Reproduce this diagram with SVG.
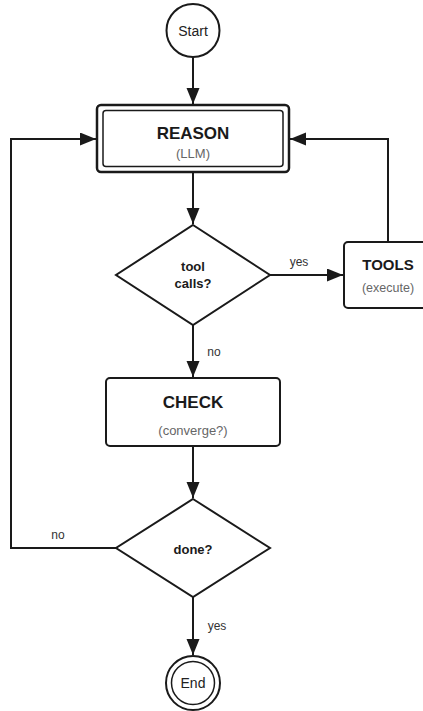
<svg xmlns="http://www.w3.org/2000/svg" width="423" height="711" viewBox="0 0 423 711">
<style>
.bg{fill:#ffffff}
.shape{fill:#ffffff;stroke:#1a1a1a;stroke-width:2}
.thin{fill:none;stroke:#1a1a1a;stroke-width:1.5}
.edge{fill:none;stroke:#1a1a1a;stroke-width:2}
.title{font-family:"Liberation Sans",Arial,sans-serif;font-weight:bold;fill:#1a1a1a;text-anchor:middle}
.sub{font-family:"Liberation Sans",Arial,sans-serif;fill:#666666;text-anchor:middle}
.term{font-family:"Liberation Sans",Arial,sans-serif;font-size:14px;fill:#222222;text-anchor:middle}
.lbl{font-family:"Liberation Sans",Arial,sans-serif;font-size:12px;fill:#333333;text-anchor:middle}
</style>
<defs>
<marker id="arrow" markerUnits="userSpaceOnUse" markerWidth="17" markerHeight="14" refX="16" refY="6.5" orient="auto">
<path d="M0,0 L16,6.5 L0,13 z" fill="#1a1a1a"/>
</marker>
</defs>
<rect class="bg" x="0" y="0" width="423" height="711"/>
<g id="connectors">
<line class="edge" x1="193" y1="57" x2="193" y2="104" marker-end="url(#arrow)"/>
<line class="edge" x1="193" y1="172" x2="193" y2="224" marker-end="url(#arrow)"/>
<line class="edge" x1="270" y1="275" x2="343" y2="275" marker-end="url(#arrow)"/>
<polyline class="edge" points="388,242 388,139 290,139" marker-end="url(#arrow)"/>
<line class="edge" x1="193" y1="325" x2="193" y2="377" marker-end="url(#arrow)"/>
<line class="edge" x1="193" y1="446" x2="193" y2="498" marker-end="url(#arrow)"/>
<polyline class="edge" points="116,548 11,548 11,139 96,139" marker-end="url(#arrow)"/>
<line class="edge" x1="193" y1="597" x2="193" y2="655" marker-end="url(#arrow)"/>
<text class="lbl" x="299" y="266">yes</text>
<text class="lbl" x="214" y="356">no</text>
<text class="lbl" x="58" y="539">no</text>
<text class="lbl" x="217" y="630">yes</text>
</g>
<g id="start">
<circle class="shape" cx="193" cy="30.5" r="26.5"/>
<text class="term" x="193" y="35.5">Start</text>
</g>
<g id="reason">
<rect x="97" y="105" width="192" height="67" rx="4" fill="#ffffff" stroke="#1a1a1a" stroke-width="2.5"/>
<rect class="thin" x="103" y="110.5" width="180" height="56" rx="3"/>
<text class="title" x="193" y="138.5" font-size="17">REASON</text>
<text class="sub" x="193" y="158" font-size="13">(LLM)</text>
</g>
<g id="toolcalls">
<polygon class="shape" points="193,225 270,275 193,325 116,275"/>
<text class="title" x="193" y="270.5" font-size="13">tool</text>
<text class="title" x="193" y="287.5" font-size="13">calls?</text>
</g>
<g id="tools">
<rect class="shape" x="344" y="242" width="88" height="66" rx="4"/>
<text class="title" x="388" y="270" font-size="15">TOOLS</text>
<text class="sub" x="388" y="292" font-size="12.5">(execute)</text>
</g>
<g id="check">
<rect class="shape" x="106" y="378" width="174" height="68" rx="4"/>
<text class="title" x="193" y="408" font-size="17">CHECK</text>
<text class="sub" x="193" y="434.5" font-size="13">(converge?)</text>
</g>
<g id="done">
<polygon class="shape" points="193,499 270,548 193,597 116,548"/>
<text class="title" x="193" y="553.5" font-size="13">done?</text>
</g>
<g id="end">
<circle class="shape" cx="193" cy="683" r="27"/>
<circle class="thin" cx="193" cy="683" r="21.5"/>
<text class="term" x="193" y="688">End</text>
</g>
</svg>
